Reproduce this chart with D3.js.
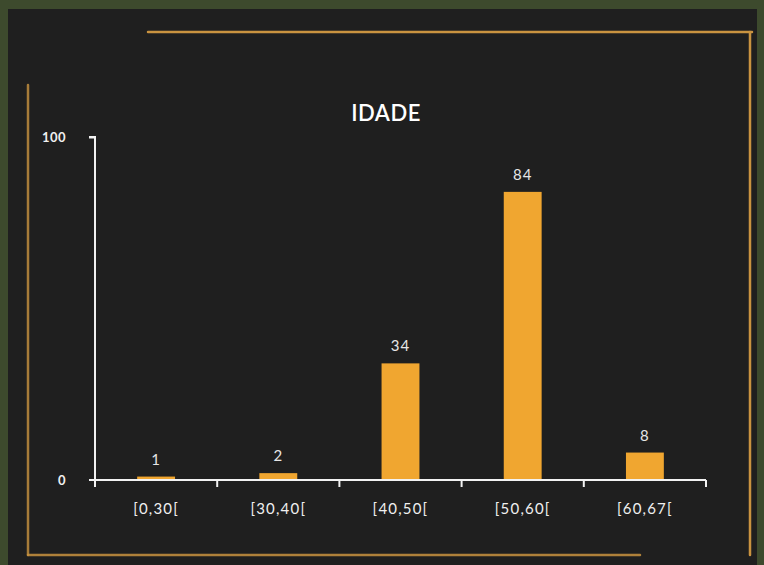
<!DOCTYPE html>
<html><head><meta charset="utf-8">
<script src="https://cdn.jsdelivr.net/npm/d3@7"></script>
<style>html,body{margin:0;padding:0;background:#3b4a2c;}svg{display:block;}</style>
</head><body><svg id="c" width="764" height="565"></svg>
<script>
const categories = ["[0,30[", "[30,40[", "[40,50[", "[50,60[", "[60,67["];
const values = [1, 2, 34, 84, 8];
const yTicks = [0, 100];
const title = "IDADE";

(function () {
const svg = d3.select("#c");
const W = 764, H = 565;
const font = "Lato, 'Open Sans', sans-serif";

// background
svg.append("rect").attr("width", W).attr("height", H).attr("fill", "#3d4a2d");
svg.append("rect").attr("x", 8).attr("y", 9).attr("width", 749).attr("height", 556).attr("fill", "#1f1f1f");

// chalk frame
const frame = svg.append("g").attr("stroke", "#c99340").attr("stroke-width", 2.5).attr("fill", "none").attr("stroke-linecap", "round");
frame.append("line").attr("x1", 148).attr("y1", 32).attr("x2", 752).attr("y2", 32);
frame.append("line").attr("x1", 750).attr("y1", 32).attr("x2", 750).attr("y2", 555);
frame.append("line").attr("x1", 28).attr("y1", 555).attr("x2", 640).attr("y2", 555).attr("stroke-opacity", 0.85);
frame.append("line").attr("x1", 28).attr("y1", 85).attr("x2", 28).attr("y2", 555).attr("stroke-opacity", 0.8);

const pL = 95, pR = 706, pT = 137, pB = 480;
const x = d3.scaleBand().domain(categories).range([pL, pR]).paddingInner(0.69).paddingOuter(0.345);
const y = d3.scaleLinear().domain([0, 100]).range([pB, pT]);

// title
svg.append("text").attr("x", 386).attr("y", 121).attr("text-anchor", "middle")
  .attr("fill", "#ffffff").attr("font-family", font).attr("font-size", 22).attr("font-weight", "600")
  .attr("letter-spacing", 0.5).text(title);

// bars
svg.append("g").selectAll("rect").data(values).join("rect")
  .attr("x", (d, i) => x(categories[i]))
  .attr("y", d => y(d))
  .attr("width", x.bandwidth())
  .attr("height", d => pB - y(d))
  .attr("fill", "#f0a630");

// value labels
svg.append("g").selectAll("text").data(values).join("text")
  .attr("x", (d, i) => x(categories[i]) + x.bandwidth() / 2)
  .attr("y", d => y(d) - 12)
  .attr("text-anchor", "middle").attr("fill", "#e6e6e6")
  .attr("font-family", font).attr("font-size", 15).attr("letter-spacing", 1).text(d => d);

// y axis
const yAxis = d3.axisLeft(y).tickValues(yTicks).tickSize(6).tickPadding(23);
const gy = svg.append("g").attr("transform", `translate(${pL},0)`).call(yAxis);
gy.select(".domain").attr("stroke", "#f2f2f2").attr("stroke-width", 2).attr("d", `M-6,${pT}H0V${pB}`);
gy.selectAll(".tick line").attr("stroke", "#f2f2f2").attr("stroke-width", 2);
gy.selectAll(".tick text").attr("fill", "#f0f0f0").attr("font-family", font).attr("font-size", 13)
  .attr("font-weight", "bold").attr("letter-spacing", 0.5);
gy.selectAll(".tick").filter(d => d === 0).select("line").remove();

// x axis
const xAxis = d3.axisBottom(x).tickSize(0).tickPadding(20);
const gx = svg.append("g").attr("transform", `translate(0,${pB})`).call(xAxis);
gx.select(".domain").attr("stroke", "#f2f2f2").attr("stroke-width", 2).attr("d", `M${pL - 6},0H${pR}`);
gx.selectAll(".tick text").attr("fill", "#f0f0f0").attr("font-family", font).attr("font-size", 15)
  .attr("letter-spacing", 1.2).attr("dy", "0.9em");
// boundary ticks
const step = x.step();
const bounds = d3.range(categories.length + 1).map(i => pL + i * step);
gx.append("g").selectAll("line").data(bounds).join("line")
  .attr("x1", d => d).attr("x2", d => d).attr("y1", 0).attr("y2", 7)
  .attr("stroke", "#f2f2f2").attr("stroke-width", 2);
})();
</script></body></html>
